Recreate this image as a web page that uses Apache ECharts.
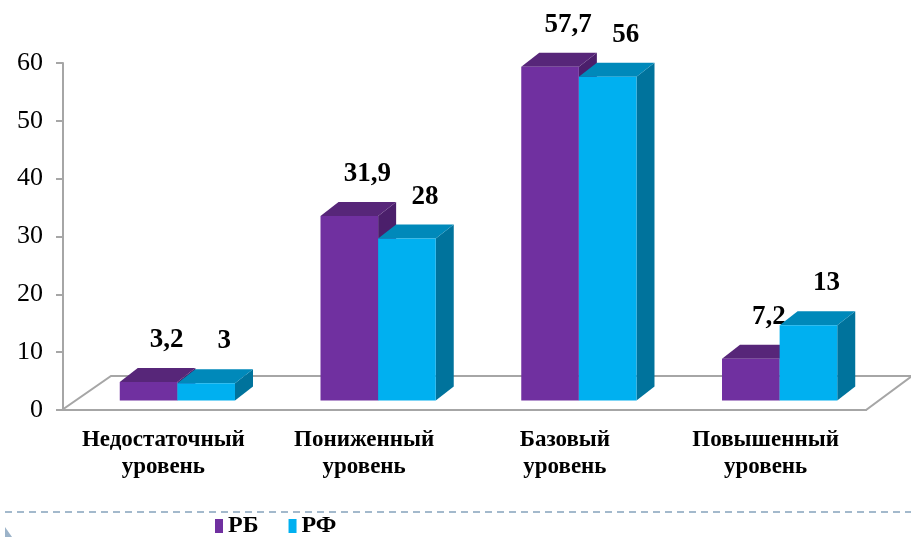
<!DOCTYPE html>
<html>
<head>
<meta charset="utf-8">
<style>
  html, body { margin: 0; padding: 0; background: #fff; }
  #chart { width: 911px; height: 538px; }
</style>
<script src="https://cdn.jsdelivr.net/npm/echarts@6/dist/echarts.min.js"></script>
</head>
<body>
<div id="chart"></div>
<script>
var categories = ['Недостаточный\nуровень', 'Пониженный\nуровень', 'Базовый\nуровень', 'Повышенный\nуровень'];
var seriesNames = ['РБ', 'РФ'];
var valuesRB = [3.2, 31.9, 57.7, 7.2];
var valuesRF = [3, 28, 56, 13];

// front / top / side colours of each series
var faceColors = [
  ['#7030a0', '#572679', '#4b1f6b'],
  ['#00b0f0', '#0089ba', '#00739c']
];

var chart = echarts.init(document.getElementById('chart'));

// 3d-looking bars, computed from the axes
function makeBar(k) {
  return function (params, api) {
    var cat = api.value(0), v = api.value(1);
    var band = api.size([1, 0])[0];
    var w = band * 0.287;
    var top = api.coord([cat, v]);
    var base = api.coord([cat, 0]);
    var lift = 9.5, dx = 18, dy = -14;
    var x0 = top[0] + 14 - w + k * w;
    var x1 = x0 + w;
    var yT = top[1] - lift, yB = base[1] - lift;
    var c = faceColors[k];
    return {
      type: 'group',
      children: [
        { type: 'polygon', shape: { points: [[x1, yB], [x1 + dx, yB + dy], [x1 + dx, yT + dy], [x1, yT]] }, style: { fill: c[2] } },
        { type: 'polygon', shape: { points: [[x0, yT], [x1, yT], [x1 + dx, yT + dy], [x0 + dx, yT + dy]] }, style: { fill: c[1] } },
        { type: 'rect', shape: { x: x0, y: yT, width: w, height: yB - yT }, style: { fill: c[0] } },
        {
          type: 'text',
          style: {
            text: String(v).replace('.', ','),
            x: (x0 + x1) / 2 + 18, y: yT - 42,
            align: 'center', verticalAlign: 'middle',
            font: 'bold 27px "Liberation Serif"', fill: '#000'
          }
        }
      ]
    };
  };
}

function floor(params, api) {
  var band = api.size([1, 0])[0];
  var l = api.coord([0, 0]);
  var r = api.coord([categories.length - 1, 0]);
  var xl = l[0] - band / 2 - 1, xr = r[0] + band / 2, y = l[1];
  return {
    type: 'polygon',
    shape: { points: [[xl, y], [xr, y], [xr + 46, y - 34], [xl + 49, y - 34]] },
    style: { fill: '#fff', stroke: '#a6a6a6', lineWidth: 2 }
  };
}

function toData(arr) {
  return arr.map(function (v, i) { return [i, v]; });
}

chart.setOption({
  animation: false,
  grid: { left: 63, right: 45, top: 63, bottom: 128 },
  legend: {
    data: seriesNames,
    left: 215, top: 514, padding: 0,
    itemWidth: 8, itemHeight: 14, itemGap: 30,
    icon: 'rect',
    textStyle: { fontFamily: 'Liberation Serif', fontWeight: 'bold', fontSize: 24, color: '#000' }
  },
  xAxis: {
    type: 'category',
    data: categories,
    axisLine: { lineStyle: { color: '#a6a6a6', width: 2 } },
    axisTick: { length: 7, lineStyle: { color: '#a6a6a6', width: 2 } },
    axisLabel: {
      interval: 0, margin: 17, lineHeight: 27,
      fontFamily: 'Liberation Serif', fontWeight: 'bold', fontSize: 23, color: '#000'
    }
  },
  yAxis: {
    type: 'value', min: 0, max: 60, interval: 10,
    axisLine: { show: true, lineStyle: { color: '#a6a6a6', width: 2 } },
    axisTick: { show: true, length: 7, lineStyle: { color: '#a6a6a6', width: 2 } },
    splitLine: { show: false },
    axisLabel: { margin: 20, fontFamily: 'Liberation Serif', fontSize: 26, color: '#000' }
  },
  graphic: [
    { type: 'line', shape: { x1: 5, y1: 512, x2: 911, y2: 512 }, style: { stroke: '#a3b9cc', lineWidth: 2, lineDash: [7, 5] } },
    { type: 'polygon', shape: { points: [[5, 527], [5, 537], [12, 537]] }, style: { fill: '#9cb3c9' } }
  ],
  series: [
    { type: 'custom', name: 'floor', silent: true, data: [[0, 0]], renderItem: floor, z: 1 },
    { type: 'custom', name: seriesNames[0], data: toData(valuesRB), encode: { x: 0, y: 1 }, renderItem: makeBar(0), itemStyle: { color: faceColors[0][0] }, z: 2 },
    { type: 'custom', name: seriesNames[1], data: toData(valuesRF), encode: { x: 0, y: 1 }, renderItem: makeBar(1), itemStyle: { color: faceColors[1][0] }, z: 3 }
  ]
});
</script>
</body>
</html>
